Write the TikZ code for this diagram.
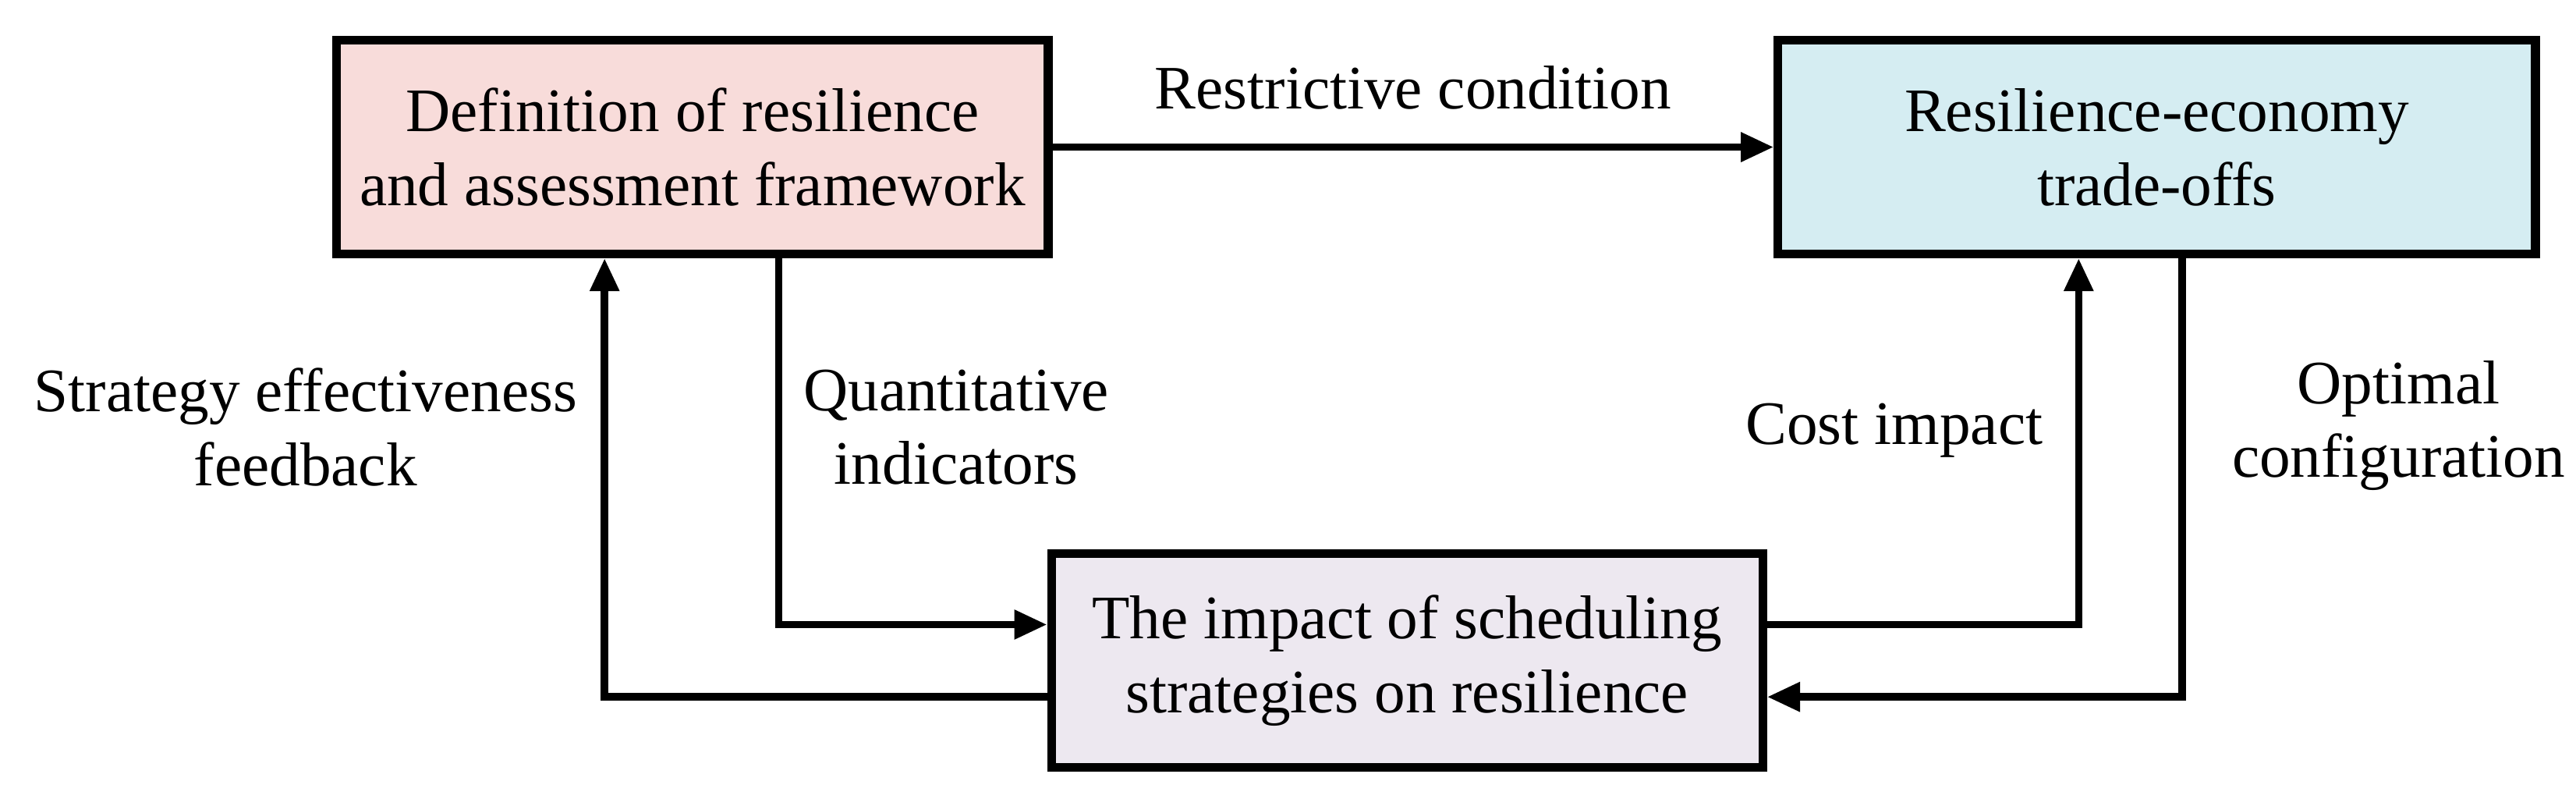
\documentclass[tikz,border=0pt]{standalone}
\usepackage{fontspec}
\setmainfont{Liberation Serif}
\usepackage{xcolor}
\usepackage{tikz}
\usetikzlibrary{
  arrows.meta,
  positioning,
  calc
}
\definecolor{defpink}{RGB}{248,220,218}
\definecolor{tradeblue}{RGB}{213,237,242}
\definecolor{impactlilac}{RGB}{237,232,240}
\tikzset{
  arrow/.style    = {-{Triangle[length=0.2cm, width=0.17cm]}, line width=1.3pt},
  mainbox/.style  = {draw, line width=1.5pt, minimum height=1.3cm,
                     minimum width=4.33cm, align=center, inner sep=2pt,
                     font=\fontsize{10.7}{12.8}\selectfont},
  lbl/.style      = {align=center, inner sep=1pt,
                     font=\fontsize{10.7}{12.8}\selectfont},
}

\begin{document}
\begin{tikzpicture}
\useasboundingbox (0,0) rectangle (15.68,4.90);

% ========== boxes ==========
\node[mainbox, fill=defpink] (def) at (4.215,4.005)
  {Definition of resilience\\and assessment framework};
\node[mainbox, fill=tradeblue, minimum width=4.61cm, right=4.39cm of def] (trade)
  {Resilience-economy\\trade-offs};
\node[mainbox, fill=impactlilac] (impact) at (8.565,0.88)
  {The impact of scheduling\\strategies on resilience};

% ========== connectors ==========
\draw[arrow] (def.east) -- (trade.west)
  node[midway, above=0.17cm, lbl] (restr) {Restrictive condition};

\draw[arrow] ([yshift=-0.22cm]impact.west) -| ([xshift=-0.535cm]def.south);
\draw[arrow] ([xshift=0.525cm]def.south) |- ([yshift=0.22cm]impact.west);
\draw[arrow] ([yshift=0.22cm]impact.east) -| ([xshift=-0.475cm]trade.south);
\draw[arrow] ([xshift=0.155cm]trade.south) |- ([yshift=-0.22cm]impact.east);

% ========== labels ==========
\node[lbl] (fbk) at (1.86,2.30) {Strategy effectiveness\\feedback};
\node[lbl] (quant) at (5.82,2.30) {Quantitative\\indicators};
\node[lbl] (cost) at (11.53,2.28) {Cost impact};
\node[lbl] (optim) at (14.60,2.31) {Optimal\\configuration};

\end{tikzpicture}
\end{document}
